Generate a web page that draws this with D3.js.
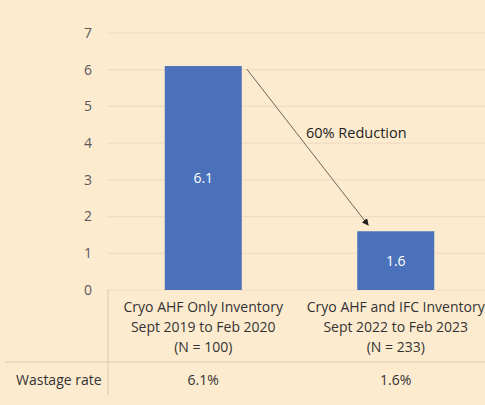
<!DOCTYPE html>
<html lang="en">
<head>
<meta charset="utf-8">
<title>Wastage rate</title>
<script src="https://cdn.jsdelivr.net/npm/d3@7"></script>
<style>
  body { margin: 0; background: #fdebd0; }
  svg { display: block; font-family: "Open Sans", sans-serif; }
</style>
</head>
<body>
<script>
// data
var categories = ["Cryo AHF Only Inventory", "Cryo AHF and IFC Inventory"];
var periods = ["Sept 2019 to Feb 2020", "Sept 2022 to Feb 2023"];
var counts = ["(N = 100)", "(N = 233)"];
var values = [6.1, 1.6];
var rateLabels = ["6.1%", "1.6%"];
var yTicks = [0, 1, 2, 3, 4, 5, 6, 7];
var rowTitle = "Wastage rate";
var note = "60% Reduction";

var w = 485, h = 405;

var svg = d3.select("body").append("svg")
  .attr("width", w)
  .attr("height", h);

svg.append("rect").attr("width", w).attr("height", h).attr("fill", "#fdebd0");

var x = d3.scaleBand()
  .domain(d3.range(categories.length))
  .range([107, 492])
  .paddingInner(0.6)
  .paddingOuter(0.3);

var y = d3.scaleLinear()
  .domain([0, 7])
  .range([290, 33]);

// gridlines
svg.selectAll("line.grid")
  .data(yTicks)
  .enter()
  .append("line")
  .attr("class", "grid")
  .attr("x1", 107)
  .attr("x2", w)
  .attr("y1", function(d) { return y(d); })
  .attr("y2", function(d) { return y(d); })
  .attr("stroke", "#efdcc2")
  .attr("stroke-width", 1.2);

// y labels
svg.selectAll("text.ytick")
  .data(yTicks)
  .enter()
  .append("text")
  .attr("class", "ytick")
  .attr("x", 92)
  .attr("y", function(d) { return y(d); })
  .attr("dy", "0.35em")
  .attr("text-anchor", "end")
  .attr("font-size", "14px")
  .attr("fill", "#595959")
  .text(function(d) { return d; });

// bars
svg.selectAll("rect.bar")
  .data(values)
  .enter()
  .append("rect")
  .attr("class", "bar")
  .attr("x", function(d, i) { return x(i); })
  .attr("y", function(d) { return y(d); })
  .attr("width", x.bandwidth())
  .attr("height", function(d) { return y(0) - y(d); })
  .attr("fill", "#4a71b9");

// bar labels
svg.selectAll("text.val")
  .data(values)
  .enter()
  .append("text")
  .attr("class", "val")
  .attr("x", function(d, i) { return x(i) + x.bandwidth() / 2; })
  .attr("y", function(d) { return (y(d) + y(0)) / 2; })
  .attr("dy", "0.35em")
  .attr("text-anchor", "middle")
  .attr("font-size", "14px")
  .attr("fill", "#ffffff")
  .text(function(d) { return d.toFixed(1); });

// category labels
var cat = svg.selectAll("text.cat")
  .data(categories)
  .enter()
  .append("text")
  .attr("class", "cat")
  .attr("text-anchor", "middle")
  .attr("font-size", "14px")
  .attr("fill", "#333333");

cat.append("tspan")
  .attr("x", function(d, i) { return x(i) + x.bandwidth() / 2; })
  .attr("y", 312)
  .text(function(d) { return d; });
cat.append("tspan")
  .attr("x", function(d, i) { return x(i) + x.bandwidth() / 2; })
  .attr("y", 332)
  .text(function(d, i) { return periods[i]; });
cat.append("tspan")
  .attr("x", function(d, i) { return x(i) + x.bandwidth() / 2; })
  .attr("y", 352)
  .text(function(d, i) { return counts[i]; });

// table lines
svg.append("line")
  .attr("x1", 108).attr("x2", 108)
  .attr("y1", y(0)).attr("y2", 395)
  .attr("stroke", "#d9c8b0").attr("stroke-width", 1);
svg.append("line")
  .attr("x1", 5).attr("x2", w)
  .attr("y1", 362).attr("y2", 362)
  .attr("stroke", "#d9c8b0").attr("stroke-width", 1);

svg.append("text")
  .attr("x", 16).attr("y", 385)
  .attr("font-size", "14px")
  .attr("fill", "#333333")
  .text(rowTitle);

svg.selectAll("text.rate")
  .data(rateLabels)
  .enter()
  .append("text")
  .attr("class", "rate")
  .attr("x", function(d, i) { return x(i) + x.bandwidth() / 2; })
  .attr("y", 385)
  .attr("text-anchor", "middle")
  .attr("font-size", "14px")
  .attr("fill", "#333333")
  .text(function(d) { return d; });

// arrow
svg.append("defs").append("marker")
  .attr("id", "head")
  .attr("viewBox", "0 0 10 10")
  .attr("refX", 9).attr("refY", 5)
  .attr("markerWidth", 7).attr("markerHeight", 7)
  .attr("orient", "auto")
  .append("path")
  .attr("d", "M0,0L10,5L0,10z")
  .attr("fill", "#222");

svg.append("line")
  .attr("x1", x(0) + x.bandwidth() + 5).attr("y1", y(values[0]) + 3)
  .attr("x2", x(1) + 11).attr("y2", y(values[1]) - 6)
  .attr("stroke", "#6b6358").attr("stroke-width", 1)
  .attr("marker-end", "url(#head)");

svg.append("text")
  .attr("x", 306).attr("y", 138)
  .attr("font-size", "14.5px")
  .attr("fill", "#222")
  .text(note);
</script>
</body>
</html>
